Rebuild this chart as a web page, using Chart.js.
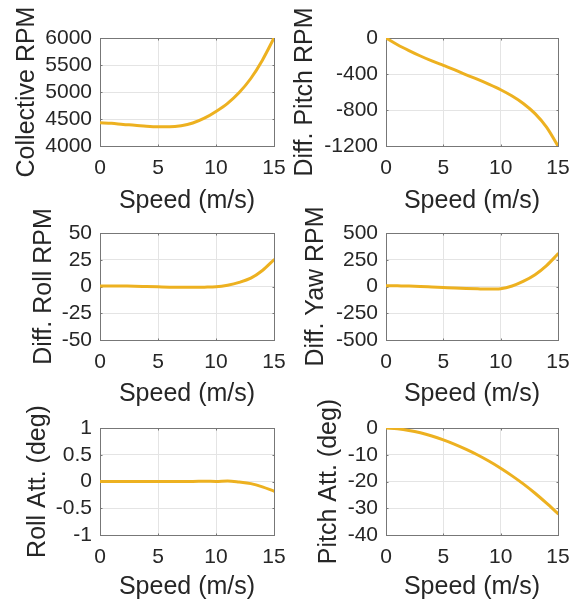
<!DOCTYPE html>
<html>
<head>
<meta charset="utf-8">
<script src="https://cdn.jsdelivr.net/npm/chart.js@4.4.1/dist/chart.umd.min.js"></script>
<style>
  html, body { margin: 0; padding: 0; background: #fff; }
  #figure { position: relative; width: 582px; height: 607px; overflow: hidden; }
  #figure canvas { position: absolute; left: 0; top: 0; }
</style>
</head>
<body>
<div id="figure"></div>
<script>
/* ================================
   Data
================================ */
const speed = [0, 1, 2, 3, 4, 5, 6, 7, 8, 9, 10, 11, 12, 13, 14, 15];
const speedTicks = [0, 5, 10, 15];

const collectiveRpm = [4430, 4420, 4400, 4385, 4365, 4355, 4355, 4375, 4425, 4515, 4640, 4790, 4990, 5250, 5590, 6000];
const collectiveTicks = [4000, 4500, 5000, 5500, 6000];

const diffPitchRpm = [0, -75, -140, -200, -255, -305, -355, -410, -460, -515, -575, -645, -730, -840, -990, -1200];
const diffPitchTicks = [-1200, -800, -400, 0];

const diffRollRpm = [0.5, 0.5, 0.4, 0.3, 0, -0.3, -0.6, -0.8, -0.7, -0.6, -0.3, 1.2, 3.8, 7.8, 15, 25];
const diffRollTicks = [-50, -25, 0, 25, 50];

const diffYawRpm = [8, 6, 4, 0, -5, -10, -15, -19, -22, -24, -20, 5, 50, 110, 195, 305];
const diffYawTicks = [-500, -250, 0, 250, 500];

const rollAttDeg = [0, 0, 0, 0, 0, 0, 0, 0, 0, 0.005, 0, 0.01, -0.01, -0.04, -0.1, -0.18];
const rollAttTicks = [-1, -0.5, 0, 0.5, 1];

const pitchAttDeg = [0, -0.3, -0.9, -1.8, -3.0, -4.45, -6.1, -8.0, -10.1, -12.45, -15.05, -17.9, -21.0, -24.4, -28.1, -32];
const pitchAttTicks = [-40, -30, -20, -10, 0];

/* ================================
   Panel layout
   area = plot box [left, right, top, bottom],
   yTitleX / xTitleY = centre line of the axis titles
================================ */
const W = 582, H = 607;
const Y_AXIS_W = 100, X_AXIS_H = 70;

const panels = [
  { label: "Collective RPM",   values: collectiveRpm, ticks: collectiveTicks,
    area: [100, 274, 38, 146],  yTitleX: 27.3,  xTitleY: 200.7 },
  { label: "Diff. Pitch RPM",  values: diffPitchRpm,  ticks: diffPitchTicks,
    area: [386, 558, 38, 146],  yTitleX: 305.5, xTitleY: 200.7 },
  { label: "Diff. Roll RPM",   values: diffRollRpm,   ticks: diffRollTicks,
    area: [100, 274, 233, 340], yTitleX: 44.3,  xTitleY: 394.5 },
  { label: "Diff. Yaw RPM",    values: diffYawRpm,    ticks: diffYawTicks,
    area: [386, 558, 233, 340], yTitleX: 316.3, xTitleY: 394.5 },
  { label: "Roll Att. (deg)",  values: rollAttDeg,    ticks: rollAttTicks,
    area: [100, 274, 428, 535], yTitleX: 38.3,  xTitleY: 587 },
  { label: "Pitch Att. (deg)", values: pitchAttDeg,   ticks: pitchAttTicks,
    area: [386, 558, 428, 535], yTitleX: 329.3, xTitleY: 587 }
];

const FONT = "'Liberation Sans', Arial, Helvetica, sans-serif";
const TEXT = "#262626";
const LINE = "#EDB120";
const GRID = "#e4e4e4";
const FRAME = "#777777";

const tickFont = { family: FONT, size: 21, lineHeight: 1 };
const titleFont = { family: FONT, size: 25, lineHeight: 0.75 };
const titleHalf = 25 * 0.75 / 2;

/* box around the plot area with short inward tick marks, drawn under the curve */
const axesBox = {
  id: "axesBox",
  beforeDatasetsDraw(chart) {
    const { ctx, chartArea: a, scales } = chart;
    const l = Math.round(a.left) + 0.5, t = Math.round(a.top) + 0.5;
    const r = Math.round(a.right) + 0.5, b = Math.round(a.bottom) + 0.5;
    const len = 2;
    ctx.save();
    ctx.strokeStyle = FRAME;
    ctx.lineWidth = 1;
    ctx.strokeRect(l, t, r - l, b - t);
    ctx.beginPath();
    scales.x.ticks.forEach(tk => {
      const px = Math.round(scales.x.getPixelForValue(tk.value)) + 0.5;
      ctx.moveTo(px, b); ctx.lineTo(px, b - len);
      ctx.moveTo(px, t); ctx.lineTo(px, t + len);
    });
    scales.y.ticks.forEach(tk => {
      const py = Math.round(scales.y.getPixelForValue(tk.value)) + 0.5;
      ctx.moveTo(l, py); ctx.lineTo(l + len, py);
      ctx.moveTo(r, py); ctx.lineTo(r - len, py);
    });
    ctx.stroke();
    ctx.restore();
  }
};

function tickList(values) {
  return scale => { scale.ticks = values.map(v => ({ value: v })); };
}

/* ================================
   Render
================================ */
function renderPanel(p) {
  const [left, right, top, bottom] = p.area;
  const canvas = document.createElement("canvas");
  canvas.width = W;
  canvas.height = H;
  document.getElementById("figure").appendChild(canvas);

  const axisLeft = left - Y_AXIS_W;
  const axisBottom = bottom + X_AXIS_H;

  new Chart(canvas, {
    type: "line",
    data: {
      datasets: [{
        data: speed.map((s, i) => ({ x: s, y: p.values[i] })),
        borderColor: LINE,
        borderWidth: 3,
        pointRadius: 0,
        cubicInterpolationMode: "monotone",
        borderCapStyle: "round"
      }]
    },
    options: {
      responsive: false,
      animation: false,
      events: [],
      layout: { padding: { left: axisLeft, right: W - right, top: top, bottom: H - axisBottom } },
      plugins: { legend: { display: false }, tooltip: { enabled: false } },
      scales: {
        x: {
          type: "linear",
          min: 0,
          max: 15,
          afterBuildTicks: tickList(speedTicks),
          afterFit: s => { s.height = X_AXIS_H; s.paddingLeft = 0; s.paddingRight = 0; },
          ticks: { font: tickFont, color: TEXT, padding: 12, maxRotation: 0, callback: v => String(v) },
          grid: { color: GRID, drawTicks: false },
          border: { display: false },
          title: { display: true, text: "Speed (m/s)", font: titleFont, color: TEXT,
                   padding: { top: 0, bottom: axisBottom - p.xTitleY - titleHalf } }
        },
        y: {
          type: "linear",
          min: p.ticks[0],
          max: p.ticks[p.ticks.length - 1],
          afterBuildTicks: tickList(p.ticks),
          afterFit: s => { s.width = Y_AXIS_W; s.paddingTop = 0; s.paddingBottom = 0; },
          ticks: { font: tickFont, color: TEXT, padding: 8, callback: v => String(v) },
          grid: { color: GRID, drawTicks: false },
          border: { display: false },
          title: { display: true, text: p.label, font: titleFont, color: TEXT,
                   padding: { top: p.yTitleX - axisLeft - titleHalf, bottom: 0 } }
        }
      }
    },
    plugins: [axesBox]
  });
}

panels.forEach(renderPanel);
</script>
</body>
</html>
